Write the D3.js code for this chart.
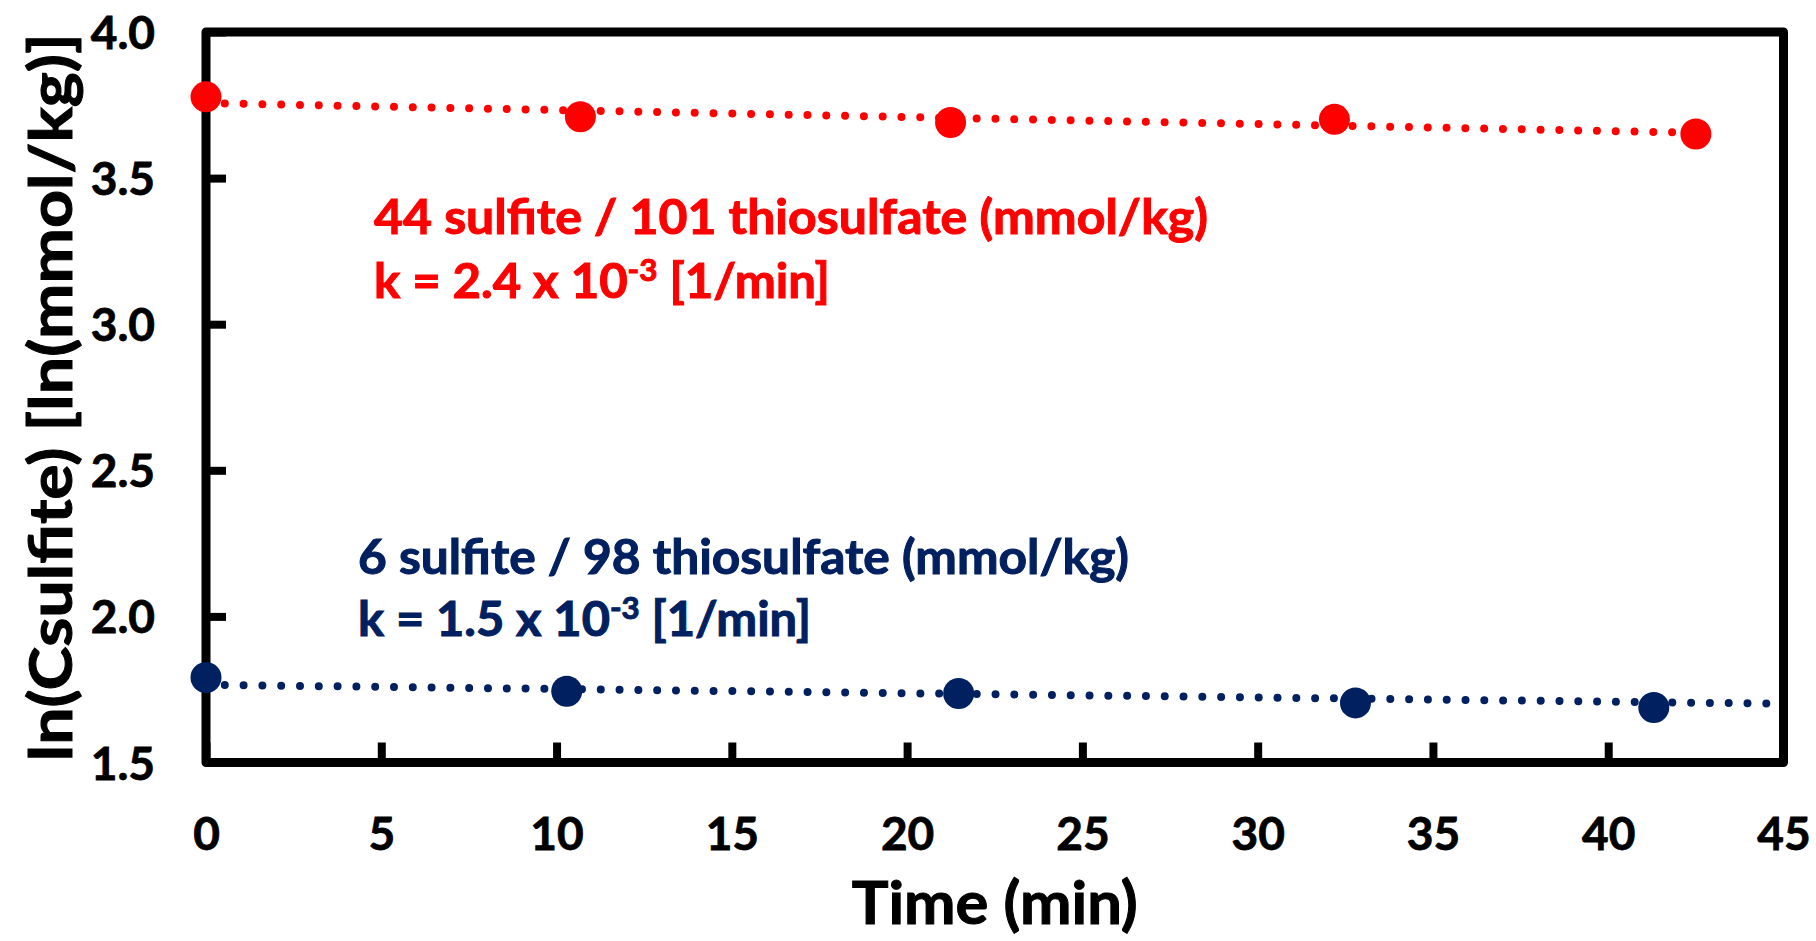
<!DOCTYPE html>
<html>
<head>
<meta charset="utf-8">
<script src="https://cdn.jsdelivr.net/npm/d3@7"></script>
<style>
  html, body { margin: 0; padding: 0; background: #fff; }
  svg { display: block; }
  text { font-family: Lato, "Open Sans", sans-serif; font-weight: 700; }
</style>
</head>
<body>
<svg id="chart" width="1816" height="941"></svg>
<script>
// ---- data ----
const timesRed = [0, 10.68, 21.24, 32.19, 42.5];
const valuesRed = [3.778, 3.710, 3.690, 3.701, 3.651];
const timesBlue = [0, 10.29, 21.47, 32.79, 41.3];
const valuesBlue = [1.791, 1.744, 1.736, 1.704, 1.688];
// trendline end points (time, value)
const trendRedT = [0, 42.5];
const trendRedV = [3.757, 3.655];
const trendBlueT = [0, 45];
const trendBlueV = [1.766, 1.701];
const xTicks = [0, 5, 10, 15, 20, 25, 30, 35, 40, 45];
const yTicks = [1.5, 2.0, 2.5, 3.0, 3.5, 4.0];
const xTitle = "Time (min)";
const yTitle = "ln(Csulfite) [ln(mmol/kg)]";
const redLabel1 = "44 sulfite / 101 thiosulfate (mmol/kg)";
const redLabel2 = ["k = 2.4 x 10", "-3", " [1/min]"];
const blueLabel1 = "6 sulfite / 98 thiosulfate (mmol/kg)";
const blueLabel2 = ["k = 1.5 x 10", "-3", " [1/min]"];

const RED = "#ff0000", BLUE = "#002060";

// ---- layout ----
const svg = d3.select("#chart");
const L = 206, R = 1783.5, T = 32, B = 762.5;
const x = d3.scaleLinear().domain([0, 45]).range([L, R]);
const y = d3.scaleLinear().domain([1.5, 4.0]).range([B, T]);

// trendlines
function trend(ts, vs, color) {
  const pts = ts.map((t, i) => [t, vs[i]]);
  svg.append("path")
    .attr("d", d3.line().x(d => x(d[0])).y(d => y(d[1]))(pts))
    .attr("fill", "none")
    .attr("stroke", color)
    .attr("stroke-width", 8)
    .attr("stroke-linecap", "round")
    .attr("stroke-dasharray", "0 18.8");
}
trend(trendRedT, trendRedV, RED);
trend(trendBlueT, trendBlueV, BLUE);

// frame
svg.append("rect")
  .attr("x", L).attr("y", T).attr("width", R - L).attr("height", B - T)
  .attr("fill", "none").attr("stroke", "#000").attr("stroke-width", 9)
  .attr("stroke-linejoin", "round");

// axes (ticks inward)
const xAxis = svg.append("g").attr("transform", `translate(0,${B})`)
  .call(d3.axisBottom(x).tickValues(xTicks).tickSize(-20).tickPadding(0).tickFormat(d3.format("d")));
xAxis.select(".domain").remove();
xAxis.selectAll(".tick line").attr("stroke", "#000").attr("stroke-width", 8);
xAxis.selectAll(".tick text").attr("fill", "#000").attr("font-size", 46)
  .attr("stroke", "#000").attr("stroke-width", 0.8)
  .attr("y", 87).attr("dy", 0);

const yAxis = svg.append("g").attr("transform", `translate(${L},0)`)
  .call(d3.axisLeft(y).tickValues(yTicks).tickSize(-20).tickPadding(0).tickFormat(d3.format(".1f")));
yAxis.select(".domain").remove();
yAxis.selectAll(".tick line").attr("stroke", "#000").attr("stroke-width", 8);
yAxis.selectAll(".tick text").attr("fill", "#000").attr("font-size", 46)
  .attr("stroke", "#000").attr("stroke-width", 0.8)
  .attr("x", -51).attr("dy", "0.36em");

// points
function points(ts, vs, color) {
  svg.append("g").selectAll("circle").data(ts.map((t, i) => [t, vs[i]])).join("circle")
    .attr("cx", d => x(d[0])).attr("cy", d => y(d[1])).attr("r", 15.5).attr("fill", color);
}
points(timesRed, valuesRed, RED);
points(timesBlue, valuesBlue, BLUE);

// annotations
function label(x0, yb1, yb2, w1, w2, line1, line2, color) {
  svg.append("text").attr("x", x0).attr("y", yb1).attr("fill", color)
    .attr("stroke", color).attr("stroke-width", 1)
    .attr("font-size", 47).attr("textLength", w1).attr("lengthAdjust", "spacingAndGlyphs").text(line1);
  const t = svg.append("text").attr("x", x0).attr("y", yb2).attr("fill", color)
    .attr("stroke", color).attr("stroke-width", 1)
    .attr("font-size", 47).attr("textLength", w2).attr("lengthAdjust", "spacingAndGlyphs");
  t.append("tspan").text(line2[0]);
  t.append("tspan").attr("font-size", 30).attr("dy", -17).text(line2[1]);
  t.append("tspan").attr("dy", 17).text(line2[2]);
}
label(374, 234, 298, 834, 456, redLabel1, redLabel2, RED);
label(358, 574, 636, 771, 453, blueLabel1, blueLabel2, BLUE);

// axis titles
svg.append("text").attr("x", (L + R) / 2).attr("y", 924).attr("text-anchor", "middle")
  .attr("font-size", 60).attr("fill", "#000").attr("stroke", "#000").attr("stroke-width", 1)
  .attr("textLength", 286).attr("lengthAdjust", "spacingAndGlyphs").text(xTitle);
svg.append("text").attr("transform", `translate(72,${(T + B) / 2}) rotate(-90)`)
  .attr("text-anchor", "middle").attr("font-size", 60).attr("fill", "#000")
  .attr("stroke", "#000").attr("stroke-width", 1)
  .attr("textLength", 728).attr("lengthAdjust", "spacingAndGlyphs").text(yTitle);
</script>
</body>
</html>
